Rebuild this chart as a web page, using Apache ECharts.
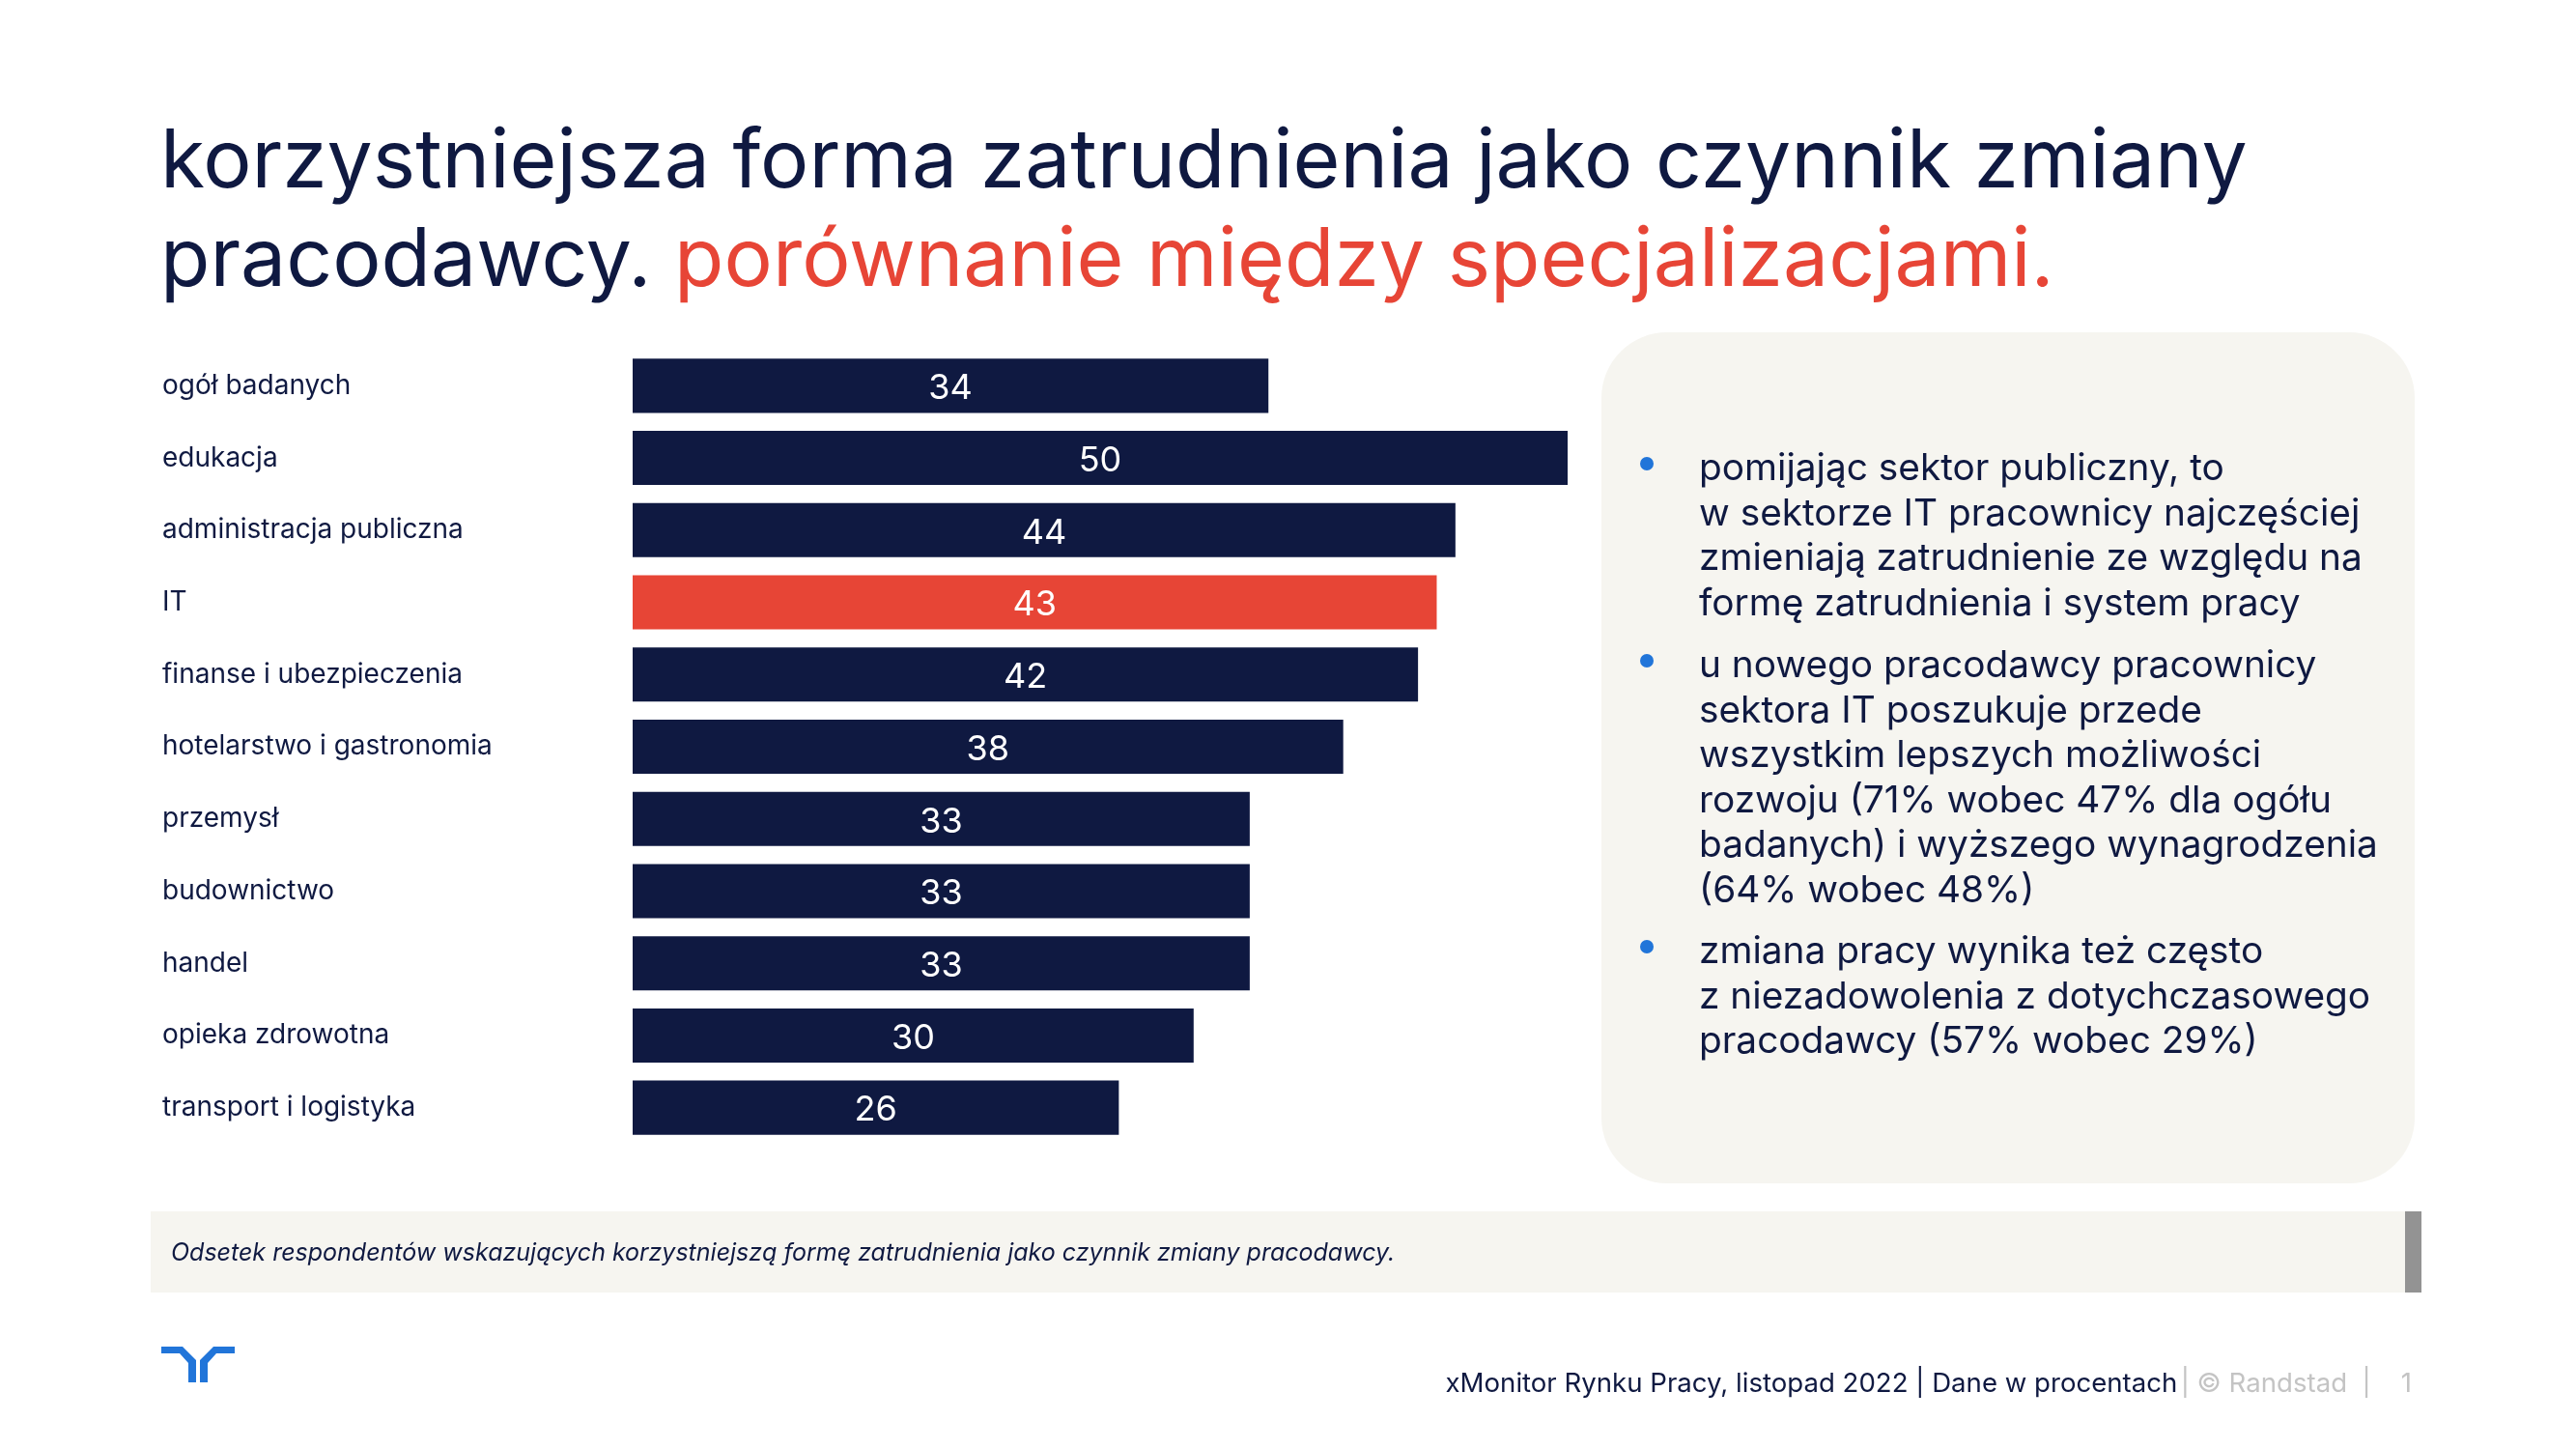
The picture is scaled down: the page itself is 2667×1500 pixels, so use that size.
<!DOCTYPE html>
<html>
<head>
<meta charset="utf-8">
<script src="https://cdn.jsdelivr.net/npm/echarts@6/dist/echarts.min.js"></script>
<style>
  html, body { margin: 0; padding: 0; background: #fff; }
  #chart { width: 2667px; height: 1500px; }
</style>
</head>
<body>
<div id="chart"></div>
<script>
var categories = ['ogół badanych', 'edukacja', 'administracja publiczna', 'IT', 'finanse i ubezpieczenia',
    'hotelarstwo i gastronomia', 'przemysł', 'budownictwo', 'handel', 'opieka zdrowotna', 'transport i logistyka'];
var values = [34, 50, 44, 43, 42, 38, 33, 33, 33, 30, 26];
var highlight = 'IT';

var bullets = [
    'pomijając sektor publiczny, to\nw sektorze IT pracownicy najczęściej\nzmieniają zatrudnienie ze względu na\nformę zatrudnienia i system pracy',
    'u nowego pracodawcy pracownicy\nsektora IT poszukuje przede\nwszystkim lepszych możliwości\nrozwoju (71% wobec 47% dla ogółu\nbadanych) i wyższego wynagrodzenia\n(64% wobec 48%)',
    'zmiana pracy wynika też często\nz niezadowolenia z dotychczasowego\npracodawcy (57% wobec 29%)'
];
var bulletTops = [462, 666, 962];

var navy = '#0f1941';
var red = '#e74536';
var blue = '#2175d9';
var offWhite = '#f6f5f0';
var font = 'Inter';

var graphics = [
    {
        type: 'text', left: 166, top: 118,
        style: {
            text: 'korzystniejsza forma zatrudnienia jako czynnik zmiany\n{n|pracodawcy.} {r|porównanie między specjalizacjami.}',
            fill: navy, fontFamily: font, fontSize: 84, lineHeight: 102,
            rich: {
                n: { fill: navy, fontFamily: font, fontSize: 84, lineHeight: 102 },
                r: { fill: red, fontFamily: font, fontSize: 84, lineHeight: 102 }
            }
        }
    },
    {
        type: 'rect', shape: { x: 1658, y: 344, width: 842, height: 881, r: 68 },
        style: { fill: offWhite }, z: -1
    },
    {
        type: 'rect', shape: { x: 156, y: 1254, width: 2334, height: 84 },
        style: { fill: offWhite }, z: -1
    },
    {
        type: 'rect', shape: { x: 2490, y: 1254, width: 17, height: 84 },
        style: { fill: '#939393' }
    },
    {
        type: 'text', x: 177, y: 1297,
        style: {
            text: 'Odsetek respondentów wskazujących korzystniejszą formę zatrudnienia jako czynnik zmiany pracodawcy.',
            fill: navy, fontFamily: font, fontStyle: 'italic', fontSize: 25, verticalAlign: 'middle'
        }
    },
    {
        type: 'text', x: 2497, y: 1433,
        style: {
            text: '{n|xMonitor Rynku Pracy, listopad 2022 | Dane w procentach} {g|| © Randstad  |    1}',
            align: 'right', verticalAlign: 'middle',
            rich: {
                n: { fill: navy, fontFamily: font, fontSize: 27.6 },
                g: { fill: '#c4c4c4', fontFamily: font, fontSize: 27.6 }
            }
        }
    },
    {
        type: 'polygon',
        shape: { points: [[167, 1394], [189, 1394], [203, 1408], [203, 1431], [195, 1431], [195, 1411], [186, 1401], [167, 1401]] },
        style: { fill: blue }
    },
    {
        type: 'polygon',
        shape: { points: [[243, 1394], [221, 1394], [207, 1408], [207, 1431], [215, 1431], [215, 1411], [224, 1401], [243, 1401]] },
        style: { fill: blue }
    }
];

bullets.forEach(function (t, i) {
    graphics.push({
        type: 'circle', shape: { cx: 1705, cy: bulletTops[i] + 18, r: 7 },
        style: { fill: blue }
    });
    graphics.push({
        type: 'text', x: 1759, y: bulletTops[i],
        style: { text: t, fill: navy, fontFamily: font, fontSize: 38.8, lineHeight: 46.6 }
    });
});

var chart = echarts.init(document.getElementById('chart'));
var option = {
    backgroundColor: '#fff',
    animation: false,
    grid: { left: 655, top: 362, width: 968, height: 822 },
    xAxis: {
        type: 'value', min: 0, max: 50, show: false
    },
    yAxis: {
        type: 'category',
        inverse: true,
        data: categories,
        axisLine: { show: false },
        axisTick: { show: false },
        axisLabel: {
            margin: 487, align: 'left',
            color: navy, fontFamily: font, fontSize: 28
        }
    },
    series: [{
        type: 'bar',
        barCategoryGap: '25%',
        data: values.map(function (v, i) {
            return {
                value: v,
                itemStyle: { color: categories[i] === highlight ? red : navy }
            };
        }),
        label: {
            show: true, position: 'inside', offset: [0, 3],
            color: '#fff', fontFamily: font, fontSize: 36
        }
    }],
    graphic: graphics
};
chart.setOption(option);
window.onresize = chart.resize;
</script>
</body>
</html>
